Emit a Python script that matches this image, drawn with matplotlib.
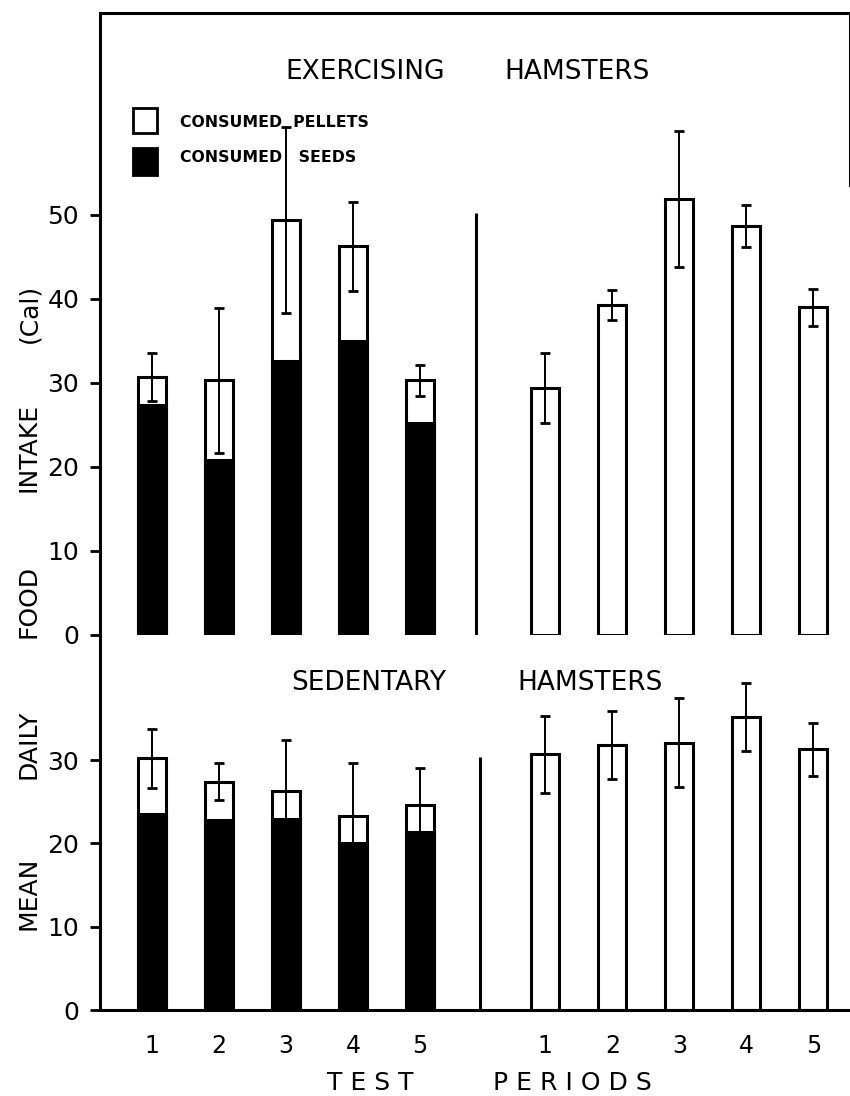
import matplotlib
matplotlib.use("Agg")
import matplotlib.pyplot as plt
from matplotlib.patches import Rectangle

# ---------------- data ----------------
periods = ["1", "2", "3", "4", "5"]

# Exercising hamsters, choice condition (pellets + seeds)
ex_choice_total = [30.7, 30.3, 49.4, 46.3, 30.3]
ex_choice_seeds = [27.4, 20.8, 32.6, 35.0, 25.2]
ex_choice_err = [2.9, 8.6, 11.1, 5.3, 1.9]

# Exercising hamsters, pellets only
ex_pellet_total = [29.4, 39.3, 51.9, 48.7, 39.0]
ex_pellet_err = [4.2, 1.8, 8.1, 2.5, 2.2]

# Sedentary hamsters, choice condition
sed_choice_total = [30.2, 27.4, 26.3, 23.3, 24.6]
sed_choice_seeds = [23.5, 22.8, 22.9, 20.0, 21.4]
sed_choice_err = [3.5, 2.2, 6.1, 6.4, 4.4]

# Sedentary hamsters, pellets only
sed_pellet_total = [30.7, 31.8, 32.1, 35.2, 31.3]
sed_pellet_err = [4.6, 4.1, 5.3, 4.1, 3.2]

top_yticks = [0, 10, 20, 30, 40, 50]
bot_yticks = [0, 10, 20, 30]

# ---------------- layout ----------------
W, H = 850, 1096
fig = plt.figure(figsize=(W / 100, H / 100), dpi=100)
plt.rcParams["font.family"] = ["DejaVu Sans"]

def fx(x):
    return x / W

def fy(y):
    return 1 - y / H

AX_L, AX_R = 100, 850
TOP_T, MID, BOT_B = 13, 635, 1010
PX_UNIT_X = 67.0
X0 = 152.0  # pixel of position 1

xmin = 1 + (AX_L - X0) / PX_UNIT_X
xmax = 1 + (AX_R - X0) / PX_UNIT_X

ax_top = fig.add_axes([fx(AX_L), fy(MID), fx(AX_R - AX_L), (MID - TOP_T) / H])
ax_bot = fig.add_axes([fx(AX_L), fy(BOT_B), fx(AX_R - AX_L), (BOT_B - MID) / H])

top_scale = 8.4
bot_scale = 8.33
ax_top.set_ylim(0, (MID - TOP_T) / top_scale)
ax_bot.set_ylim(0, (BOT_B - MID) / bot_scale)
for ax in (ax_top, ax_bot):
    ax.set_xlim(xmin, xmax)

left_x = [i + 1 for i in range(len(periods))]
right_x = [i + 6.87 for i in range(len(periods))]
bw = 0.42
lw_bar = 2.2

def choice_bars(ax, total, seeds, err):
    ax.bar(left_x, total, width=bw, facecolor="white", edgecolor="black",
           linewidth=lw_bar, zorder=2)
    ax.bar(left_x, seeds, width=bw, facecolor="black", edgecolor="black",
           linewidth=lw_bar, zorder=2)
    ax.errorbar(left_x, total, yerr=err, fmt="none", ecolor="black",
                elinewidth=1.4, capsize=3.5, capthick=2.0, zorder=3)

def pellet_bars(ax, total, err):
    ax.bar(right_x, total, width=bw, facecolor="white", edgecolor="black",
           linewidth=lw_bar, zorder=2)
    ax.errorbar(right_x, total, yerr=err, fmt="none", ecolor="black",
                elinewidth=1.4, capsize=3.5, capthick=2.0, zorder=3)

choice_bars(ax_top, ex_choice_total, ex_choice_seeds, ex_choice_err)
pellet_bars(ax_top, ex_pellet_total, ex_pellet_err)
choice_bars(ax_bot, sed_choice_total, sed_choice_seeds, sed_choice_err)
pellet_bars(ax_bot, sed_pellet_total, sed_pellet_err)

# dividers between the two groups
ax_top.vlines(5.84, 0, (MID - 213) / top_scale, color="black", linewidth=2.2)
ax_bot.vlines(5.9, 0, (BOT_B - 757) / bot_scale, color="black", linewidth=2.2)

# spines
for sp in ax_top.spines.values():
    sp.set_linewidth(2.2)
for sp in ax_bot.spines.values():
    sp.set_linewidth(2.2)
ax_top.spines["bottom"].set_visible(False)
ax_top.spines["right"].set_bounds((MID - 185) / top_scale, (MID - TOP_T) / top_scale)
ax_bot.spines["top"].set_visible(False)
ax_bot.spines["right"].set_visible(False)

# ticks
ax_top.set_yticks(top_yticks)
ax_top.set_yticklabels([str(v) for v in top_yticks])
ax_bot.set_yticks(bot_yticks)
ax_bot.set_yticklabels([str(v) for v in bot_yticks])
for ax in (ax_top, ax_bot):
    ax.tick_params(axis="y", direction="out", length=7, width=2,
                   labelsize=18, pad=8)
ax_top.set_xticks([])
ax_bot.set_xticks(left_x + right_x)
ax_bot.set_xticklabels(periods + periods)
ax_bot.tick_params(axis="x", length=0, labelsize=17, pad=17)

# titles
fig.text(fx(365), fy(72), "EXERCISING", ha="center", va="center", fontsize=19)
fig.text(fx(577), fy(72), "HAMSTERS", ha="center", va="center", fontsize=19)
fig.text(fx(369), fy(683), "SEDENTARY", ha="center", va="center", fontsize=19)
fig.text(fx(590), fy(683), "HAMSTERS", ha="center", va="center", fontsize=19)

# legend
fig.patches.append(Rectangle((fx(133), fy(133)), fx(24), 25 / H, transform=fig.transFigure,
                             facecolor="white", edgecolor="black", linewidth=2))
fig.patches.append(Rectangle((fx(133), fy(175)), fx(24), 27 / H, transform=fig.transFigure,
                             facecolor="black", edgecolor="black", linewidth=2))
fig.text(fx(180), fy(122), "CONSUMED  PELLETS", ha="left", va="center",
         fontsize=11.3, fontweight="bold")
fig.text(fx(180), fy(158), "CONSUMED   SEEDS", ha="left", va="center",
         fontsize=11.3, fontweight="bold")

# y label words
for word, yc in [("MEAN", 893), ("DAILY", 744), ("FOOD", 601),
                 ("INTAKE", 447), ("(Cal)", 313)]:
    fig.text(fx(29), fy(yc), word, rotation=90, ha="center", va="center",
             fontsize=18)

# x label
fig.text(fx(370), fy(1083), "T E S T", ha="center", va="center", fontsize=18)
fig.text(fx(572), fy(1083), "P E R I O D S", ha="center", va="center", fontsize=18)

fig.savefig("out.png", dpi=100)
